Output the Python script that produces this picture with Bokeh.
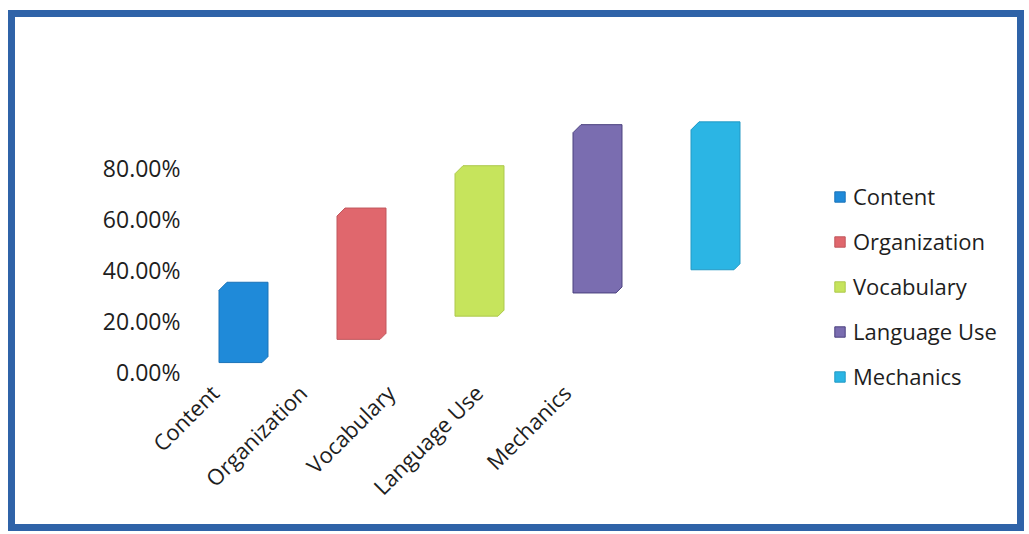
import math
from bokeh.plotting import figure
from bokeh.models import (Range1d, FixedTicker, NumeralTickFormatter, Legend,
                          LegendItem, ColumnDataSource)
from bokeh.embed import file_html
from bokeh.resources import INLINE

# ---- data -------------------------------------------------------------
categories = ["Content", "Organization", "Vocabulary", "Language Use", "Mechanics"]
values = [0.315, 0.515, 0.59, 0.66, 0.58]
colors = ["#1f8ad9", "#e0676d", "#c6e45c", "#7a6db0", "#2bb5e4"]
edge_colors = ["#1b73b8", "#c0565c", "#adc84c", "#4a407e", "#2299c4"]
y_ticks = [0, 0.2, 0.4, 0.6, 0.8]

# ---- layout / style constants -----------------------------------------
FONT = "Open Sans"
BORDER = 7
W, H = 1016, 521                      # outer size incl. border (border-box)
FRAME_L, FRAME_R, FRAME_T, FRAME_B = 173, 997, 80, 382   # canvas coords
Y0_PX = 354            # canvas y of value 0
PX_Y = 255.0           # pixels per unit (100%)
TICK0_PX, TICK_STEP = 199, 88.0      # axis category positions (front floor)
BAR0_PX, BAR_STEP = 228, 118.0       # bar positions (perspective, back)
FLOOR0, FLOOR_RISE = 0.035, 0.091    # 3-D floor rise per category
BAR_W = 0.415
BEVEL_TX, BEVEL_TY = 8 / BAR_STEP, 8 / PX_Y
BEVEL_BX, BEVEL_BY = 6 / BAR_STEP, 6 / PX_Y

y_range = Range1d(-(FRAME_B - Y0_PX) / PX_Y, (Y0_PX - FRAME_T) / PX_Y)
x_range = Range1d(-(TICK0_PX - FRAME_L) / TICK_STEP,
                  (FRAME_R - TICK0_PX) / TICK_STEP)

p = figure(width=W, height=H, output_backend="svg", toolbar_location=None,
           x_range=x_range, y_range=y_range,
           min_border_left=FRAME_L, min_border_right=W - FRAME_R,
           min_border_top=FRAME_T, min_border_bottom=H - FRAME_B,
           styles={"border": f"{BORDER}px solid #2f63a8",
                   "box-sizing": "border-box",
                   "margin-left": "8px", "margin-top": "10px"})
p.extra_x_ranges["bars"] = Range1d(-(BAR0_PX - FRAME_L) / BAR_STEP,
                                   (FRAME_R - BAR0_PX) / BAR_STEP)
p.outline_line_color = None
p.grid.visible = False
p.background_fill_color = "white"
p.border_fill_color = "white"

xs, ys = [], []
for i, v in enumerate(values):
    base = FLOOR0 + FLOOR_RISE * i
    top = base + v
    l, r = i - BAR_W / 2, i + BAR_W / 2
    xs.append([l, l + BEVEL_TX, r, r, r - BEVEL_BX, l])
    ys.append([top - BEVEL_TY, top, top, base + BEVEL_BY, base, base])

src = ColumnDataSource(dict(xs=xs, ys=ys, fill=colors, line=edge_colors,
                            cat=categories))
rend = p.patches("xs", "ys", source=src, fill_color="fill", line_color="line",
                 line_width=1, x_range_name="bars")

# y axis
ya = p.yaxis[0]
ya.ticker = FixedTicker(ticks=y_ticks)
ya.formatter = NumeralTickFormatter(format="0.00%")
ya.axis_line_color = None
ya.major_tick_line_color = None
ya.major_tick_out = 0
ya.minor_tick_line_color = None
ya.major_label_standoff = 8
ya.major_label_text_font = FONT
ya.major_label_text_font_size = "23px"
ya.major_label_text_color = "#1e1e1e"

# x axis
xa = p.xaxis[0]
xa.ticker = FixedTicker(ticks=list(range(len(categories))))
xa.major_label_overrides = {i: c for i, c in enumerate(categories)}
xa.major_label_orientation = math.pi / 4
xa.axis_line_color = None
xa.major_tick_line_color = None
xa.major_tick_out = 0
xa.minor_tick_line_color = None
xa.major_label_standoff = -11
xa.major_label_text_font = FONT
xa.major_label_text_font_size = "22px"
xa.major_label_text_color = "#1e1e1e"

legend = Legend(items=[LegendItem(label=c, renderers=[rend], index=i)
                       for i, c in enumerate(categories)],
                location=(645, 8), orientation="vertical",
                glyph_width=13, glyph_height=13, label_standoff=7,
                label_height=30, spacing=15, padding=0, margin=0,
                border_line_color=None, background_fill_alpha=0,
                label_text_font=FONT, label_text_font_size="22px",
                label_text_color="#1e1e1e")
p.add_layout(legend, "center")

open("out.html", "w").write(file_html(p, INLINE))
